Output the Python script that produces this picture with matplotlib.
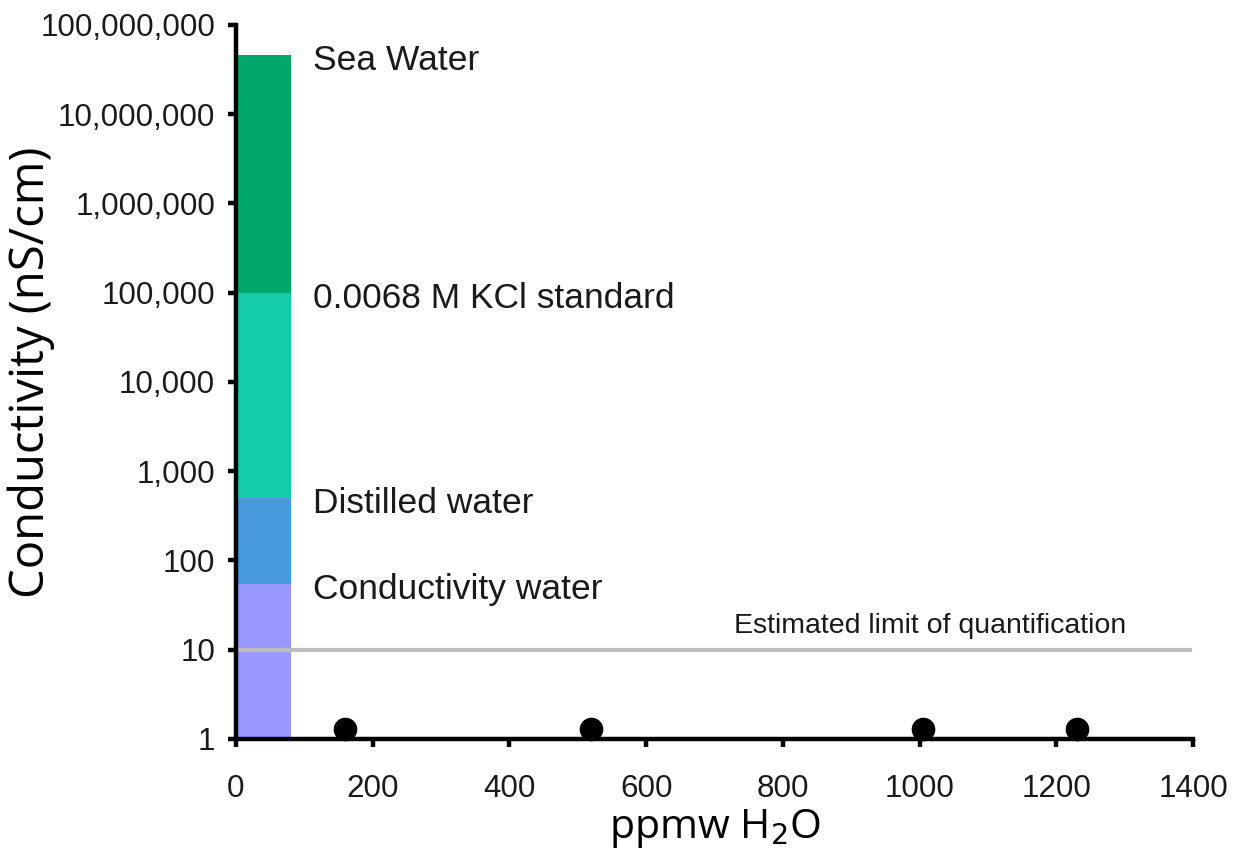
import matplotlib
matplotlib.use("Agg")
import matplotlib.pyplot as plt
from matplotlib.ticker import FixedLocator, FuncFormatter, NullLocator

# Data
range_names = ["Conductivity water", "Distilled water", "0.0068 M KCl standard", "Sea Water"]
range_bottoms = [1, 55, 500, 100000]
range_tops = [55, 500, 100000, 46000000]
range_colors = ["#9999FF", "#4699DB", "#14CCA8", "#00A86B"]
bar_x0 = 0
bar_width = 80

sample_ppmw = [160, 520, 1005, 1230]
sample_cond = [1.3, 1.3, 1.3, 1.3]

loq_value = 10
loq_label = "Estimated limit of quantification"

x_ticks = [0, 200, 400, 600, 800, 1000, 1200, 1400]
y_ticks = [1, 10, 100, 1000, 10000, 100000, 1000000, 10000000, 100000000]

fig = plt.figure(figsize=(12.33, 8.5), dpi=100)
ax = fig.add_axes([0.1914, 0.1306, 0.9676 - 0.1914, 0.9706 - 0.1306])
ax.set_yscale("log")
ax.set_xlim(0, 1400)
ax.set_ylim(1, 1e8)

for b, t, c in zip(range_bottoms, range_tops, range_colors):
    ax.bar(bar_x0, t - b, bottom=b, width=bar_width, align="edge", color=c, linewidth=0, zorder=1)

label_font = dict(family="Liberation Sans", size=25.5, color="#1a1a1a")
for name, t in zip(range_names, range_tops):
    ax.annotate(name, xy=(112, t), xytext=(0, -4), textcoords="offset points",
                ha="left", va="center", **label_font)

ax.axhline(loq_value, xmin=0, xmax=0.997, color="#BEBEBE", linewidth=3, zorder=2)
ax.annotate(loq_label, xy=(729, loq_value), xytext=(0, 8), textcoords="offset points",
            ha="left", va="bottom", family="Liberation Sans", size=20.5, color="#1a1a1a")

ax.plot(sample_ppmw, sample_cond, "o", color="black", markersize=16, zorder=2, clip_on=False)

for s in ["top", "right"]:
    ax.spines[s].set_visible(False)
for s in ["left", "bottom"]:
    ax.spines[s].set_linewidth(3.2)
    ax.spines[s].set_zorder(5)

ax.xaxis.set_major_locator(FixedLocator(x_ticks))
ax.yaxis.set_major_locator(FixedLocator(y_ticks))
ax.yaxis.set_minor_locator(NullLocator())
ax.yaxis.set_major_formatter(FuncFormatter(lambda v, p: f"{int(round(v)):,}"))
ax.tick_params(axis="both", which="major", direction="out", length=6, width=3.2,
               labelsize=22.6)
ax.tick_params(axis="x", pad=19)
ax.tick_params(axis="y", pad=9)
for lab in ax.get_xticklabels() + ax.get_yticklabels():
    lab.set_family("Liberation Sans")
    lab.set_color("#1a1a1a")

ax.set_xlabel("ppmw H$_2$O", family="Open Sans", size=29.5, va="center")
ax.xaxis.set_label_coords(0.5, -0.125)
ax.set_ylabel("Conductivity (nS/cm)", family="Open Sans", size=34, va="center")
ax.yaxis.set_label_coords(-0.214, 0.514)

fig.savefig("out.png", dpi=100)
